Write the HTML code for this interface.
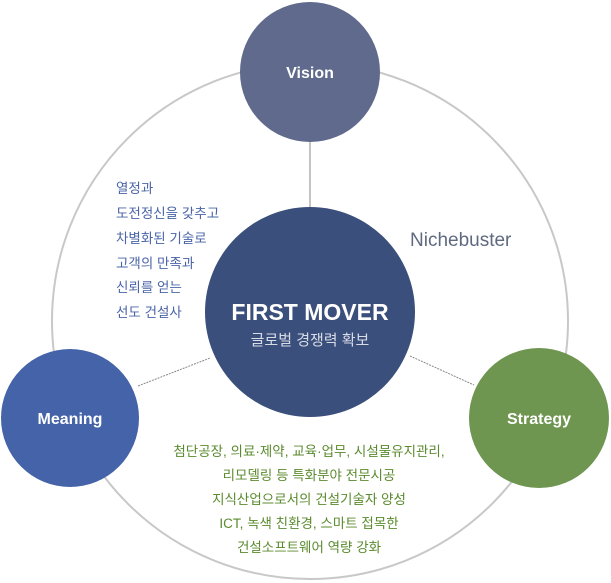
<!DOCTYPE html>
<html><head><meta charset="utf-8"><style>
html,body{margin:0;padding:0;background:#fff;}
svg{display:block;font-family:"Liberation Sans","Noto Sans CJK KR",sans-serif;}
</style></head><body>
<svg width="611" height="583" viewBox="0 0 611 583">
<circle cx="310" cy="321" r="258" fill="none" stroke="#c8c8c8" stroke-width="2"/>
<line x1="310" y1="140" x2="310" y2="210" stroke="#888" stroke-width="1"/>
<line x1="138" y1="386" x2="210" y2="358" stroke="#888" stroke-width="1" stroke-dasharray="2,1"/>
<line x1="410" y1="356" x2="474" y2="385" stroke="#888" stroke-width="1" stroke-dasharray="2,1"/>
<circle cx="310" cy="72" r="70" fill="#5f6a8c"/>
<circle cx="310" cy="312" r="105" fill="#3b4f7c"/>
<circle cx="70" cy="418" r="69" fill="#4463a8"/>
<circle cx="539" cy="418" r="70" fill="#6f9650"/>
<g fill="#fff" font-weight="bold" font-size="16" text-anchor="middle">
<text x="310" y="78">Vision</text>
<text x="70" y="424">Meaning</text>
<text x="539" y="424">Strategy</text>
<text x="310" y="320" font-size="23" font-weight="bold">FIRST MOVER</text>
</g>
<text x="310" y="345" fill="#d8dce6" font-size="15" text-anchor="middle">글로벌 경쟁력 확보</text>
<text x="410" y="246" fill="#5f6a80" font-size="19">Nichebuster</text>
<g fill="#4a64a8" font-size="13.5">
<text x="116" y="193">열정과</text>
<text x="116" y="218">도전정신을 갖추고</text>
<text x="116" y="243">차별화된 기술로</text>
<text x="116" y="268">고객의 만족과</text>
<text x="116" y="292">신뢰를 얻는</text>
<text x="116" y="317">선도 건설사</text>
</g>
<g fill="#5a8a2e" font-size="13.5" text-anchor="middle">
<text x="309" y="456">첨단공장, 의료·제약, 교육·업무, 시설물유지관리,</text>
<text x="309" y="480">리모델링 등 특화분야 전문시공</text>
<text x="309" y="504">지식산업으로서의 건설기술자 양성</text>
<text x="309" y="528">ICT, 녹색 친환경, 스마트 접목한</text>
<text x="309" y="552">건설소프트웨어 역량 강화</text>
</g>
</svg>
</body></html>
